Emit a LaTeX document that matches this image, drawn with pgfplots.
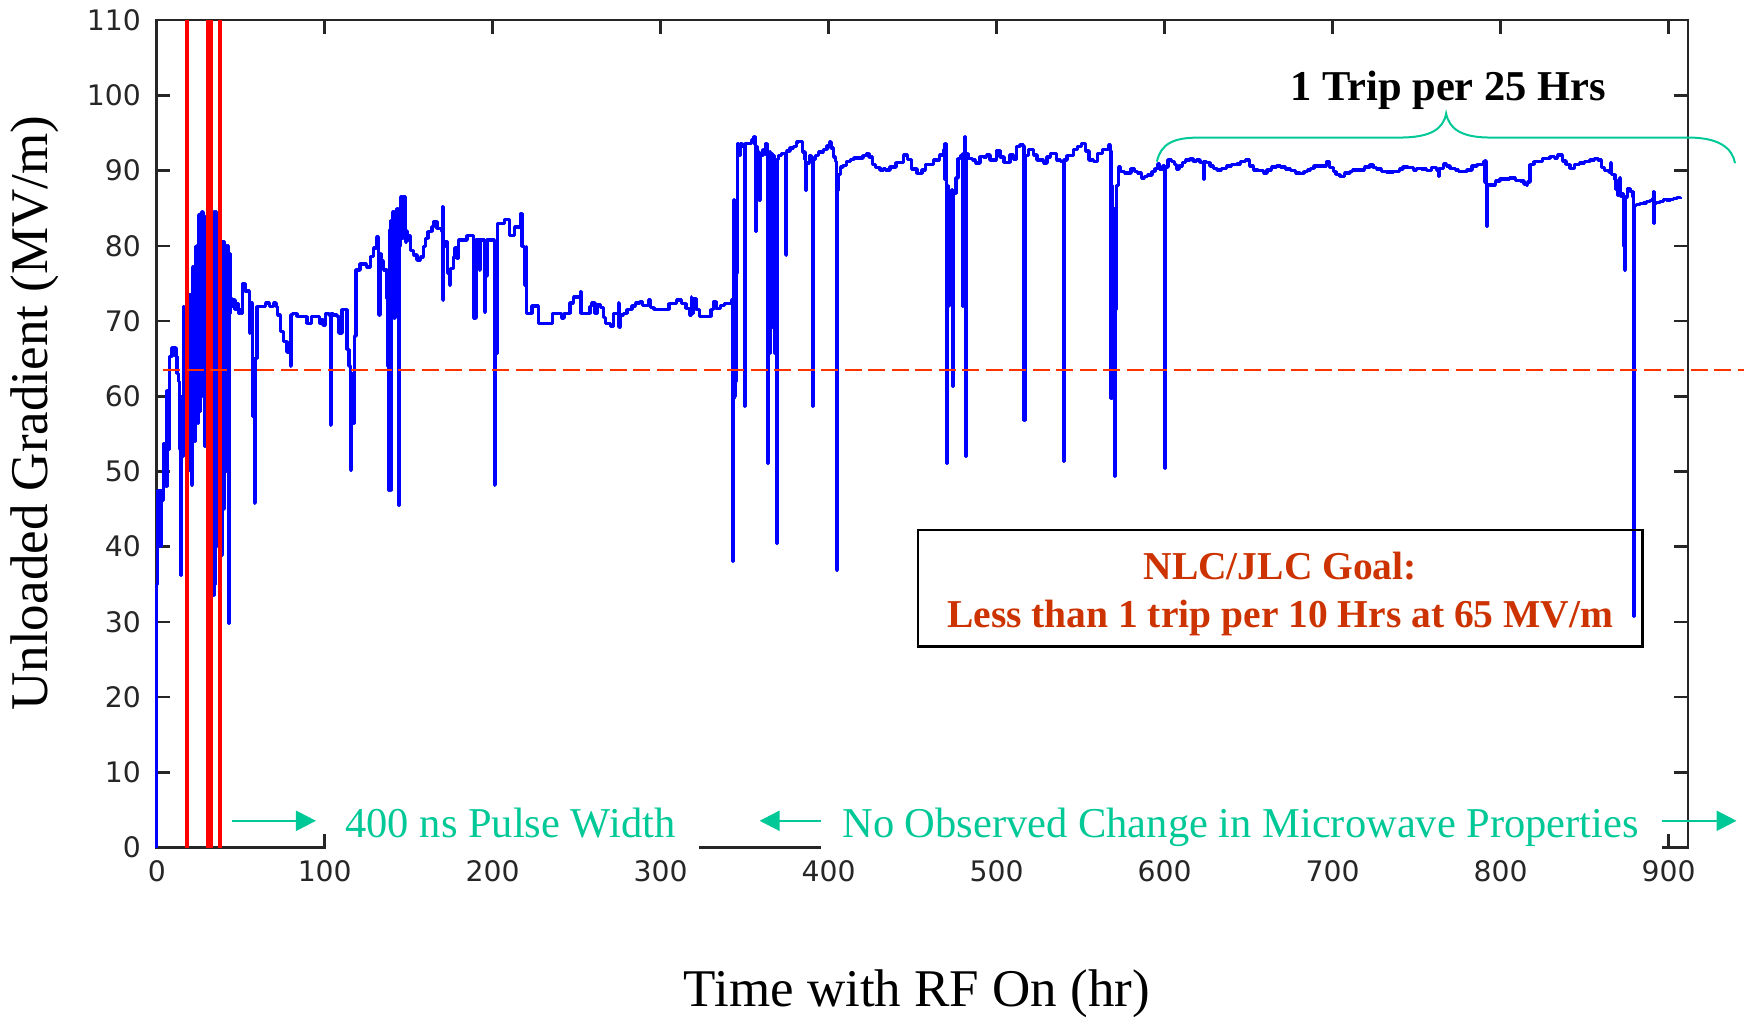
\documentclass[border=0pt]{standalone}
\usepackage{pgfplots}
\pgfplotsset{compat=1.18}
\usepackage{fontspec}
\setmainfont{Liberation Serif}
\newfontfamily\tickfont{DejaVu Sans}
\usetikzlibrary{arrows.meta}
\definecolor{trace}{RGB}{0,0,255}
\definecolor{dashred}{RGB}{255,51,0}
\definecolor{goalred}{RGB}{204,51,0}
\definecolor{tealg}{RGB}{0,200,150}
\begin{document}
\begin{tikzpicture}
\begin{axis}[
  at={(0pt,0pt)}, anchor=south west,
  scale only axis, width=612.5pt, height=330.9pt,
  xmin=0, xmax=911.6, ymin=0, ymax=110,
  xtick={0,100,...,900}, ytick={0,10,...,110},
  tick align=inside, major tick length=5.5pt,
  axis line style={line width=1pt, black!85},
  every tick/.style={line width=1pt, black!85},
  /pgf/number format/assume math mode=true,
  ticklabel style={font=\fontsize{11.3}{13}\selectfont\tickfont, text=black!85},
  yticklabel style={xshift=-2.8pt},
  xticklabel style={yshift=-1.6pt},
  xlabel={Time with RF On (hr)},
  ylabel={Unloaded Gradient (MV/m)},
  xlabel style={at={(axis description cs:0.4965,-0.1771)}, anchor=center, font=\fontsize{21.2}{24}\selectfont},
  ylabel style={at={(axis description cs:-0.0795,0.525)}, anchor=center, rotate=0, font=\fontsize{21.2}{24}\selectfont},
  clip=false,
]
% ---- measured gradient trace ----
\addplot[trace, line width=1.35pt, line join=bevel, const plot] coordinates {
(0,0) (0,35) (0.5,35) (0.6,47.5) (1.5,47.5) (2,40) (2.5,47.5) (3.5,46.2) (4,53.7) (5,53.7) (5.5,48) (6,60.8) (7,60.8) (7.3,52.9) (7.6,65.3) (8.5,65.3) (9,66.4) (11,66.4) (11.5,65.3) (12,63) (12.5,63) (13,62) (13.5,53) (14,58) (14.4,36.2) (14.8,60) (15.3,52) (16,71.9) (16.3,52.4) (16.8,70) (17.3,55) (18,72) (18.4,50) (19,73.5) (19.5,52) (20,73.5) (20.6,48.2) (21.2,77.2) (21.6,56) (22,77.2) (22.5,54) (23.2,79.9) (23.6,60) (24,80) (24.5,56.4) (25,84.1) (25.5,58) (26,84.3) (26.5,70.6) (27,84.5) (27.5,60) (28,84) (28.5,53.3) (29,83) (29.5,60) (30,83.5) (30.5,34) (31,84) (31.5,33.4) (32,83.5) (32.5,34) (33,83) (33.5,33.5) (34,84.5) (34.5,35) (35,84.5) (35.5,55) (36,83) (36.5,40) (37,78) (37.5,45) (38,79) (38.5,38.9) (39,80.6) (39.5,45) (40,80.6) (40.5,60) (41,80) (41.5,50) (42,80) (42.8,29.8) (43.2,79) (43.6,71) (44,73) (44.7,72) (45.5,72.8) (46.5,71.5) (47.5,72.3) (48.5,71) (49.7,71.5) (50.5,71) (51.2,75) (52,75) (52.5,74) (54,74) (55.1,68.4) (55.6,72.4) (56.5,72.4) (57,57.3) (57.5,65) (58.1,45.8) (58.6,65) (59.6,71.9) (62,71.9) (64.6,72.4) (67,71.9) (69.5,72.4) (71,71.9) (72,70.8) (73.5,68.6) (75.5,67.3) (77.5,65.9) (78.5,65.9) (79.5,64) (80,70.8) (81,71) (83.4,70.6) (86,70.6) (89.4,69.7) (92,70.6) (95.3,70.6) (97,69.7) (98,70.2) (99,69.5) (100.3,71) (102.5,70.8) (103.3,56.2) (103.8,71) (105,70.8) (107.2,70.6) (108.5,68.4) (110.2,71.5) (112,71.5) (113.2,66.2) (114.5,64) (115.3,50.2) (116,63) (117,56.4) (117.6,68) (118.7,76.8) (121,77.6) (123.1,77.6) (125,77.2) (127.1,78.6) (129,79.7) (131,81.2) (132,79) (132.4,70.8) (132.8,79) (133.5,78) (135,76.8) (137,73) (137.4,64) (138,47.5) (138.6,82.1) (139.2,47.5)
(139.5,83.4) (140.5,84.5) (141.2,70.4) (141.8,84.5) (143,85) (143.7,84) (144,45.5) (144.4,80) (145,86.5) (146,81) (146.5,86.5) (147.5,86.5) (148,80.5) (148.5,82) (149,80.8) (150,81.3) (150.9,79.4) (152,79.4) (153,78.8) (154.9,78.1) (156,78.1) (157,78.5) (158.8,79.9) (160,81) (161.5,81.9) (163.8,82.5) (164.8,83.2) (166.8,82.3) (168.5,82.3) (169.5,81.9) (170.2,85.2) (170.4,72.8) (170.8,80) (172,80.6) (173,76.4) (174.3,74.8) (175,77) (176.5,78.5) (177.5,79.7) (178.7,78.3) (179.5,80.8) (182,80.8) (184.6,81.4) (188,81.4) (188.5,70.4) (189.5,70.4) (190,80.8) (191.5,80.8) (192,76.8) (192.5,80.8) (194.5,80.8) (195.3,71.2) (195.8,76) (196.5,80.8) (198.5,80.8) (199.5,80.8) (200.9,48.2) (201.3,65.7) (202.5,65.7) (203,83) (205.5,83) (207,83.5) (209.4,83.5) (210,81.4) (211.5,81.4) (213,82.5) (215.4,82.5) (216.5,84.3) (217.4,79.9) (218.5,79.9) (219,74.8) (220,79.9) (220.3,71) (222,71) (223.5,72) (226,72) (227.3,69.7) (231,69.7) (234.2,69.7) (235.5,71) (238,71) (240.2,71) (241,70.4) (242.5,71) (245.2,71) (246,72.4) (248.1,73.2) (251,73.2) (252.1,73.9) (252.5,71) (257.1,71) (258,71.9) (259,72.4) (261,71) (262.5,72.2) (264,71.8) (266,70.5) (267,69.7) (270,69.3) (272,71) (274.9,72.4) (275.3,69.2) (276,70.8) (277.9,71) (280,71.5) (283,72) (285,72.4) (287.8,72.6)
(289,72.1) (290,72.1) (292.7,72.8) (294,71.8) (296,71.5) (300,71.5) (302.6,71.5) (305,72.3) (307.5,72.3) (309.6,72.8) (312.5,72.3) (315,71.7) (317,70.8) (318.2,73.2) (318.5,71) (319.5,73) (321,71.5) (323,70.6) (327,70.6) (329.4,70.6) (330,71.5) (331.5,72.6) (333,71.7) (335.5,72.1) (338,72.3) (340,72.3) (342.3,72.8) (342.7,38) (343.1,72) (343.4,59.7) (343.7,86.1) (344,60) (344.4,86) (344.8,62) (345.3,76.4) (345.8,93.6) (346.5,92) (347.5,93.6) (348.5,93.2) (349.9,58.6) (350.3,93.6) (352,93.6) (354.2,94.1) (355.5,94.5) (356.2,93.5) (356.6,81.9) (357,93.2) (357.5,92.5) (358.6,86.1) (359.5,92) (361,92.8) (362.5,93.6) (363.3,92) (363.7,51.1) (364.1,92) (364.6,65.7) (365,92.5) (365.5,69) (366.1,92.3) (366.6,72) (367.1,92) (367.6,65.7) (368.2,91.5) (369.1,40.4) (369.5,91.5) (370,92) (372,92.3) (374,92.3) (374.5,78.8) (374.9,92.6) (377,93) (379,93.2) (381,93.8) (382,93.9) (383.5,93.9) (384.5,92.5) (386,91.5) (386.4,87.4) (386.8,91) (388.5,92) (389.5,91.8) (390.3,58.6) (390.7,91.5) (392,92) (394,92.5) (396.9,92.8) (399,93.3) (400.5,93.8) (401.5,93) (402.8,91.8) (404,91.2) (404.8,36.9) (405.2,87.4) (406,89.5) (407,90.5) (408.5,90.7) (410.8,91.2) (413,91.5) (415,91.7) (418.7,91.7) (420.5,92) (422.7,92.3) (424,91.8) (426,90.8) (428,90.4) (430.6,90.1)
(432.6,90.3) (434,90.1) (436.5,90.5) (440,91.1) (444.5,92.1) (447,91.5) (449.5,90.2) (452.5,89.6) (455.5,90.1) (457.5,90.8) (462.4,91.4) (466,92.1) (468.7,92.8) (469,88.8) (469.3,93.6) (469.8,88.8) (470.2,51.1) (470.6,88) (471,72) (471.6,79) (472,73) (472.5,78.5) (473,75) (473.5,87.5) (473.9,61.3) (474.3,87) (475.9,89) (477,91.6) (478.5,92) (479.5,71.9) (480,92.3) (480.5,72.5) (481,92.3) (481.2,94.5) (481.5,52) (481.9,92.3) (483,91.6) (485.5,91.4) (487.5,91) (490.2,91.9) (492,91.8) (494,92.1) (496,91.4) (500.1,92.7) (502,91.8) (504.5,91.1) (508,92.1) (510,91.5) (512,93.2) (514,93.4) (516,93.3) (516.2,75) (516.4,56.8) (516.8,75) (517.2,92) (519,92.8) (521.9,92.1) (524,91.4) (527.9,91) (530,91.8) (532,92.3) (535.8,91.4) (538,91.2) (539.8,51.3) (540.2,91.4) (542,92) (545.7,92.8) (548,93.2) (550.7,93.6) (553,92.6) (555,91.4) (557.6,91.2) (560,92.3) (563,92.8) (566.6,93.4) (567.8,92.6) (568.2,59.7) (568.6,88) (569,62) (569.4,85) (569.8,65) (570.1,49.3) (570.5,85) (571,71.5) (571.5,88) (572.5,90.5)
(573.6,89.9) (576,89.7) (578.5,89.7) (580,90.3) (582,89.9) (584,89.7) (586.4,89) (588,89.2) (590,89.4) (592.5,89.9) (594.3,90.3) (596,90.9) (597,90.2) (599,90.6) (600.1,90.3) (600.3,50.4) (600.6,90.5) (602,91.4) (604,91.2) (606,90.8) (607,90.2) (608.5,90.6) (610.5,91.1) (612.5,91.4) (615.2,91.6) (617,91.3) (619,91.4) (621,91.1) (623,91.2) (623.2,88.8) (623.5,91.2) (625,91.1) (627,90.6) (629,90.3) (631.1,90.1) (634,90.3) (637,90.6) (640,90.8) (643,90.9) (645,91.2) (648,91.4) (650.5,90.6) (653,90.1) (655.5,90) (658.9,89.7) (661,90.1) (663.5,90.5) (666.8,90.6) (669,90.5) (672,90.2) (675,90) (678,89.7) (680.7,89.6) (683,89.9) (685,90.1) (687,90.3) (689,90.6) (691.6,90.6) (694,90.6) (696.5,91.2) (698,90.4) (700.5,89.9) (702,89.5) (704.5,89.2) (707,89.7) (710.4,89.9)
(712,90.1) (716,90.1) (719,90.5) (722.3,90.8) (724,90.4) (726,90.2) (729,89.9) (732,89.8) (736.2,89.9) (740,90.2) (742,90.5) (745,90.4) (748,90.1) (750.1,90.3) (753,90.2) (756,90) (759,90.4) (762,90.1) (763,89.2) (763.4,90.3) (766,90.9) (768,90.6) (770,90.3) (773,90.1) (775,89.9) (777.9,89.9) (780,90.1) (783,90.6) (786,90.8) (789.8,91.2) (790.4,88.5) (790.8,91.3) (791.4,88.3) (791.8,82.6) (792.2,88.1) (794,88.1) (797,88.6) (799.7,88.9) (803,88.9) (805.5,89) (809,88.7) (812,88.6) (814,88.2) (815.6,88.1) (816,88.5) (817.5,90.8) (820,91.2) (822.5,91.2) (825,91.6) (829.4,91.9) (832,91.7) (834,92.1) (837,91.3) (839,90.8) (841.4,90.3) (844,90.8) (847,91) (850,91.2) (853.3,91.4) (856,91.6) (858,91.4) (860,90.4) (862,90) (864.6,89.8) (865.5,91) (866,89.5) (868.1,88.8) (868.8,87.5) (869.5,86.7) (870.1,86.8) (871,89) (871.3,86.6) (872,87) (872.6,87) (873.3,80) (873.8,76.8) (874.3,86.5) (875.5,87.6) (877,87.2) (878.5,87.2) (878.9,86.5) (879.1,30.7) (879.4,85.4) (881,85.5) (883,85.6) (885,85.7) (887,85.9) (889,86) (890.5,86.3) (891,87.2) (891.3,83) (891.7,85.6) (893,85.8) (895,85.9) (897,86.2) (898.9,86.1) (901,86.2) (903,86.3) (905,86.4) (906.8,86.2)
};
% ---- red markers ----
\addplot[red, line width=1.3pt] coordinates {(18,0) (18,110)};
\addplot[red, line width=3pt] coordinates {(31.3,0) (31.3,110)};
\addplot[red, line width=1.3pt] coordinates {(37.6,0) (37.6,110)};
% ---- goal level ----
\addplot[dashred, line width=0.8pt, dash pattern=on 6.7pt off 2.7pt] coordinates {(3.9,63.5) (945,63.5)};
% ---- annotations ----
\draw[black, line width=1pt] (axis cs:453.1,26.7) rectangle (axis cs:884.4,42.2);
\node[anchor=base, text=goalred, font=\fontsize{15.8}{18}\selectfont\bfseries] at (axis cs:668.8,35.6) {NLC/JLC Goal:};
\node[anchor=base, text=goalred, font=\fontsize{15.8}{18}\selectfont\bfseries] at (axis cs:668.8,29.2) {Less than 1 trip per 10 Hrs at 65 MV/m};
\node[anchor=base, text=black, font=\fontsize{17}{20}\selectfont\bfseries] at (axis cs:768.9,99.35) {1 Trip per 25 Hrs};
\draw[tealg, line width=0.8pt] (axis cs:595.4,91.2) .. controls (axis cs:598,93.6) and (axis cs:605,94.4) .. (axis cs:621,94.4)
  -- (axis cs:740,94.4) .. controls (axis cs:758,94.4) and (axis cs:766,95.5) .. (axis cs:767.6,97.6)
  .. controls (axis cs:769.5,95.5) and (axis cs:777,94.4) .. (axis cs:794,94.4)
  -- (axis cs:912,94.4) .. controls (axis cs:930,94.4) and (axis cs:938,93) .. (axis cs:939.6,91.0);
\coordinate (wA1) at (axis cs:100.7,-0.4);
\coordinate (wA2) at (axis cs:323,7.5);
\coordinate (wB1) at (axis cs:395.4,-0.4);
\coordinate (wB2) at (axis cs:896,7.5);
\coordinate (t1) at (axis cs:210.6,1.33);
\coordinate (t2) at (axis cs:645.3,1.33);
\coordinate (a1s) at (axis cs:45,3.55);
\coordinate (a1e) at (axis cs:94.8,3.55);
\coordinate (a2s) at (axis cs:395.4,3.55);
\coordinate (a2e) at (axis cs:358.9,3.55);
\coordinate (a3s) at (axis cs:895.9,3.55);
\coordinate (a3e) at (axis cs:940.5,3.55);
\end{axis}
\fill[white] (wA1) rectangle (wA2);
\fill[white] (wB1) rectangle (wB2);
\node[anchor=base, text=tealg, font=\fontsize{17}{20}\selectfont] at (t1) {400 ns Pulse Width};
\node[anchor=base, text=tealg, font=\fontsize{17}{20}\selectfont] at (t2) {No Observed Change in Microwave Properties};
\draw[tealg, line width=0.9pt, -{Triangle[length=8pt,width=8pt]}] (a1s) -- (a1e);
\draw[tealg, line width=0.9pt, -{Triangle[length=8pt,width=8pt]}] (a2s) -- (a2e);
\draw[tealg, line width=0.9pt, -{Triangle[length=8pt,width=8pt]}] (a3s) -- (a3e);
\pgfresetboundingbox
\path[use as bounding box] (-62.7pt,-67.4pt) rectangle (637.7pt,339pt);
\end{tikzpicture}
\end{document}
